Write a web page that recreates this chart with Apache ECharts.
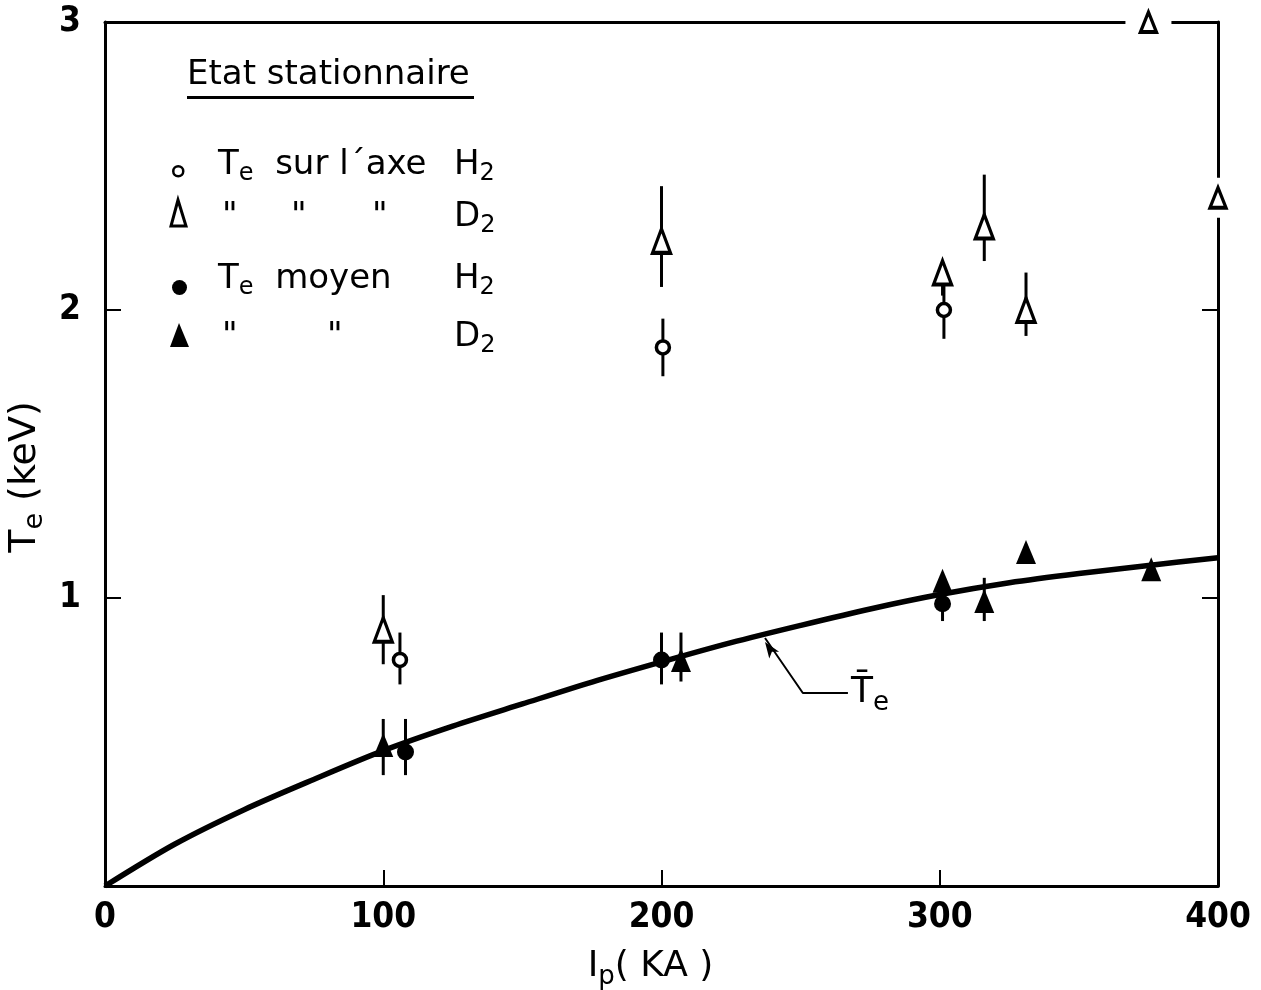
<!DOCTYPE html>
<html><head><meta charset="utf-8">
<script src="https://cdn.jsdelivr.net/npm/echarts@6/dist/echarts.min.js"></script>
<style>html,body{margin:0;padding:0;background:#fff}#c{width:1261px;height:990px}</style>
</head><body><div id="c"></div>
<script>
// ---- data ----
const xTicks = [0, 100, 200, 300, 400];
const yTicks = [0, 1, 2, 3];
// Te sur l'axe H2 (open circles): [Ip, Te, low, high]
const axeH2 = [[106, 0.785, 0.70, 0.88], [200.5, 1.87, 1.77, 1.97], [301.5, 2.0, 1.90, 2.09]];
// Te sur l'axe D2 (open triangles)
const axeD2 = [[100, 0.89, 0.77, 1.01], [200, 2.24, 2.08, 2.43], [301, 2.13, 2.05, 2.13], [316, 2.29, 2.17, 2.47], [331, 2.0, 1.91, 2.13]];
// open triangles lying on the frame (no error bars)
const axeD2Edge = [[375, 3.0], [400, 2.39]];
// Te moyen H2 (filled circles)
const moyH2 = [[108, 0.465, 0.385, 0.58], [200, 0.785, 0.70, 0.88], [301, 0.98, 0.92, 1.0]];
// Te moyen D2 (filled triangles)
const moyD2 = [[100, 0.49, 0.385, 0.58], [207, 0.785, 0.71, 0.88], [301, 1.06, 1.0, 1.06], [316, 0.99, 0.92, 1.07], [331, 1.16, 1.16, 1.16], [376, 1.10, 1.10, 1.10]];
// mean Te curve
const curveX = [0, 25, 50, 75, 100, 125, 150, 175, 200, 225, 250, 275, 300, 325, 350, 375, 400];
const curveY = [0, 0.145, 0.265, 0.37, 0.47, 0.555, 0.632, 0.708, 0.778, 0.845, 0.905, 0.962, 1.012, 1.053, 1.085, 1.113, 1.14];
// leader line of the T̄e label
const leaderX = [237.2, 250.8, 267];
const leaderY = [0.861, 0.67, 0.67];

const chart = echarts.init(document.getElementById('c'));
const NUM = "'DejaVu Sans Condensed','DejaVu Sans',sans-serif";
const FONT = "'DejaVu Sans',sans-serif";
const pairs = (xs, ys) => xs.map((x, i) => [x, ys[i]]);

function errSeries(data) {
  return {
    type: 'custom', z: 3, silent: true,
    data: data.filter(d => d[3] > d[2]).map(d => [d[0], d[2], d[3]]),
    renderItem: function (params, api) {
      const a = api.coord([api.value(0), api.value(1)]);
      const b = api.coord([api.value(0), api.value(2)]);
      return { type: 'line', shape: { x1: a[0], y1: a[1], x2: b[0], y2: b[1] }, style: { stroke: '#000', lineWidth: 3 } };
    }
  };
}
function scatter(data, symbol, size, filled) {
  return {
    type: 'scatter', z: 5, symbol: symbol, symbolSize: size, silent: true,
    data: data.map(d => [d[0], d[1]]),
    itemStyle: filled ? { color: '#000', opacity: 1 } : { color: '#fff', borderColor: '#000', borderWidth: 3.5, opacity: 1 }
  };
}

const rich = {
  a: { fontFamily: FONT, fontSize: 34, color: '#000' },
  s: { fontFamily: FONT, fontSize: 24, color: '#000', padding: [18, 0, 0, 0] }
};
const richLbl = {
  a: { fontFamily: FONT, fontSize: 36, color: '#000' },
  s: { fontFamily: FONT, fontSize: 26, color: '#000', padding: [20, 0, 0, 0] }
};
const richAx = {
  a: { fontFamily: FONT, fontSize: 36, color: '#000' },
  s: { fontFamily: FONT, fontSize: 26, color: '#000', padding: [20, 0, 0, 0] }
};
const richAy = {
  a: { fontFamily: FONT, fontSize: 38, color: '#000' },
  s: { fontFamily: FONT, fontSize: 27, color: '#000', padding: [20, 0, 0, 0] }
};
function T(left, top, text) {
  return { type: 'text', left: left, top: top, style: { text: text, rich: rich, font: '34px ' + FONT, fill: '#000' } };
}

const option = {
  animation: false,
  backgroundColor: '#fff',
  grid: { left: 105, right: 43, top: 22, bottom: 104, containLabel: false, outerBoundsMode: 'none' },
  xAxis: [{
    type: 'value', min: 0, max: 400, interval: 100,
    axisLine: { lineStyle: { color: '#000', width: 3 } },
    axisTick: { inside: true, length: 16, lineStyle: { color: '#000', width: 2 } },
    splitLine: { show: false },
    axisLabel: { margin: 14, fontFamily: NUM, fontSize: 35, color: '#000', fontWeight: 'bold' },
    name: '{a|I}{s|p}{a|( KA )}', nameLocation: 'middle', nameGap: 58,
    nameTextStyle: { rich: richAx, padding: [0, 22, 0, 0] }
  }, {
    type: 'value', position: 'top', min: 0, max: 400, interval: 100,
    axisLine: { show: true, onZero: false, lineStyle: { color: '#000', width: 3 } },
    axisTick: { show: false }, axisLabel: { show: false }, splitLine: { show: false }
  }],
  yAxis: [{
    type: 'value', min: 0, max: 3, interval: 1,
    axisLine: { lineStyle: { color: '#000', width: 3 } },
    axisTick: { inside: true, length: 16, lineStyle: { color: '#000', width: 2 } },
    splitLine: { show: false },
    axisLabel: { margin: 24, fontFamily: NUM, fontSize: 35, color: '#000', fontWeight: 'bold',
      formatter: v => (v === 0 ? '' : String(v)) },
    name: '{a|T}{s|e}{a| (keV)}', nameLocation: 'middle', nameGap: 50,
    nameTextStyle: { rich: richAy, padding: [0, 46, 0, 0] }
  }, {
    type: 'value', position: 'right', min: 0, max: 3, interval: 1,
    axisLine: { show: true, onZero: false, lineStyle: { color: '#000', width: 3 } },
    axisTick: { inside: true, length: 16, lineStyle: { color: '#000', width: 2 } },
    axisLabel: { show: false }, splitLine: { show: false }
  }],
  series: [
    // white patches where the frame is broken by edge points
    { type: 'scatter', z: 4, symbol: 'rect', symbolSize: [46, 40], silent: true,
      data: axeD2Edge, itemStyle: { color: '#fff', opacity: 1 } },
    { type: 'line', z: 2, smooth: 0.3, showSymbol: false, silent: true,
      data: pairs(curveX, curveY), lineStyle: { color: '#000', width: 5.5 } },
    { type: 'line', z: 2, showSymbol: false, silent: true,
      data: pairs(leaderX, leaderY), lineStyle: { color: '#000', width: 2 } },
    { type: 'scatter', z: 3, silent: true, symbol: 'arrow', symbolSize: [9, 16], symbolRotate: 35,
      data: [[leaderX[0], leaderY[0]]], symbolOffset: [0, 4], itemStyle: { color: '#000', opacity: 1 } },
    { type: 'scatter', z: 3, silent: true, symbolSize: 0, itemStyle: { opacity: 1 },
      data: [[leaderX[2], leaderY[2]]],
      label: { show: true, position: 'right', distance: 3, opacity: 1,
        formatter: '{a|T\u0304}{s|e}', rich: richLbl } },
    errSeries(axeH2), errSeries(axeD2), errSeries(moyH2), errSeries(moyD2),
    scatter(axeH2, 'circle', 13, false),
    scatter(axeD2, 'triangle', [18, 24], false),
    scatter(axeD2Edge, 'triangle', [16, 20], false),
    scatter(moyH2, 'circle', 17, true),
    scatter(moyD2, 'triangle', [20, 24], true)
  ],
  graphic: [
    T(187, 58, 'Etat stationnaire'),
    { type: 'rect', left: 187, top: 96, shape: { width: 287, height: 3 }, style: { fill: '#000' } },
    { type: 'circle', left: 172, top: 165, shape: { r: 5 }, style: { fill: '#fff', stroke: '#000', lineWidth: 2.5 } },
    T(218, 148, '{a|T}{s|e}{a|  sur l\u00b4axe}'),
    T(454, 148, '{a|H}{s|2}'),
    { type: 'polygon', shape: { points: [[178, 200], [171, 226], [186, 226]] }, style: { fill: '#fff', stroke: '#000', lineWidth: 3 } },
    T(222, 200, '"'), T(291, 200, '"'), T(372, 200, '"'),
    T(454, 200, '{a|D}{s|2}'),
    { type: 'circle', left: 172, top: 280, shape: { r: 7.5 }, style: { fill: '#000' } },
    T(218, 262, '{a|T}{s|e}{a|  moyen}'),
    T(454, 262, '{a|H}{s|2}'),
    { type: 'polygon', shape: { points: [[179, 323], [170, 347], [189, 347]] }, style: { fill: '#000' } },
    T(222, 320, '"'), T(327, 320, '"'),
    T(454, 320, '{a|D}{s|2}')
  ]
};
chart.setOption(option);
</script>
</body></html>
